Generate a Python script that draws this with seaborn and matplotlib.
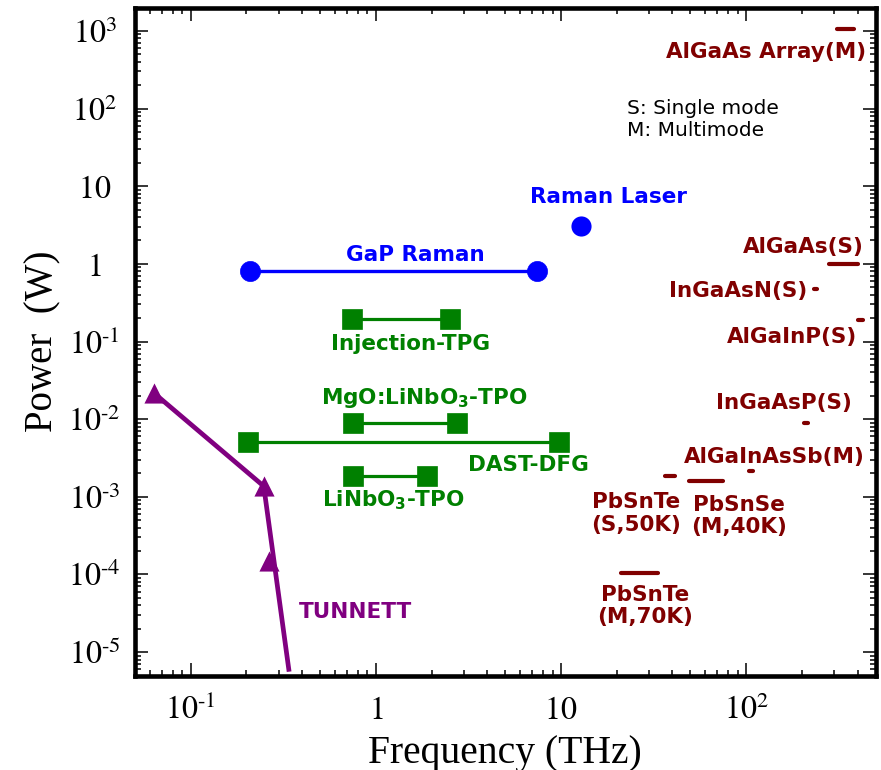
import matplotlib
matplotlib.use("Agg")
import matplotlib.pyplot as plt
import seaborn as sns
from matplotlib.ticker import FixedLocator, FixedFormatter, LogLocator, NullFormatter

# ---------------- data ----------------
gap_raman_x = [0.21, 7.45]
gap_raman_y = [0.82, 0.82]
raman_laser_x = [12.8]
raman_laser_y = [3.07]

injection_tpg_x = [0.74, 2.51]
injection_tpg_y = [0.197, 0.197]
mgo_tpo_x = [0.75, 2.75]
mgo_tpo_y = [0.009, 0.009]
dast_dfg_x = [0.203, 9.8]
dast_dfg_y = [0.00506, 0.00506]
linbo3_tpo_x = [0.75, 1.88]
linbo3_tpo_y = [0.00184, 0.00184]

tunnett_marker_x = [0.063, 0.248, 0.264]
tunnett_marker_y = [0.0219, 1.37e-3, 1.47e-4]
tunnett_line_x = [0.063, 0.248, 0.34]
tunnett_line_y = [0.0219, 1.37e-3, 5.6e-6]

laser_names = ["AlGaAs Array(M)", "AlGaAs(S)", "InGaAsN(S)", "AlGaInP(S)",
               "InGaAsP(S)", "AlGaInAsSb(M)", "PbSnTe(S,50K)",
               "PbSnSe(M,40K)", "PbSnTe(M,70K)"]
laser_f_lo = [310, 280, 232, 403, 205, 103.5, 36.4, 49.4, 21.2]
laser_f_hi = [383, 400, 243, 429, 215, 109, 41.2, 75, 33.5]
laser_power = [1050, 1.0, 0.479, 0.189, 0.009, 0.00212, 0.00184, 0.00162, 1.03e-4]

x_ticks = [0.1, 1, 10, 100]
x_tick_labels = [r"$10^{\text{-}1}$", r"$1$", r"$10$", r"$10^{2}$"]
y_ticks = [1e-5, 1e-4, 1e-3, 1e-2, 1e-1, 1, 10, 100, 1000]
y_tick_labels = [r"$10^{\text{-}5}$", r"$10^{\text{-}4}$", r"$10^{\text{-}3}$",
                 r"$10^{\text{-}2}$", r"$10^{\text{-}1}$", r"$1$", r"$10$",
                 r"$10^{2}$", r"$10^{3}$"]

# ---------------- style ----------------
sns.set_style("ticks")
plt.rcParams["font.family"] = ["DejaVu Sans"]
plt.rcParams["mathtext.fontset"] = "stix"
plt.rcParams["text.color"] = "black"
plt.rcParams["axes.labelcolor"] = "black"
plt.rcParams["xtick.color"] = "black"
plt.rcParams["ytick.color"] = "black"
plt.rcParams["xtick.labelcolor"] = "black"
plt.rcParams["ytick.labelcolor"] = "black"

BLUE = "#0000ff"
GREEN = "#008000"
PURPLE = "#800080"
DRED = "#800000"

fig = plt.figure(figsize=(8.81, 7.70), dpi=100)
ax = fig.add_axes([135 / 881, 1 - 675.5 / 770, (875.5 - 135) / 881, (675.5 - 7.5) / 770])
ax.set_xscale("log")
ax.set_yscale("log")
ax.set_xlim(0.05, 500)
ax.set_ylim(5e-6, 2000)


def seg(x, y, color, lw, marker=None, ms=0, cap="butt"):
    sns.lineplot(x=x, y=y, ax=ax, color=color, lw=lw, marker=marker,
                 markersize=ms, markeredgewidth=0.5, markeredgecolor=color,
                 sort=False, estimator=None, legend=False,
                 solid_capstyle=cap)


# blue
seg(gap_raman_x, gap_raman_y, BLUE, 2.4, "o", 14.5)
sns.scatterplot(x=raman_laser_x, y=raman_laser_y, ax=ax, color=BLUE, s=14.5 ** 2,
                linewidth=0, legend=False, zorder=3)
# green
for xs, ys in [(injection_tpg_x, injection_tpg_y), (mgo_tpo_x, mgo_tpo_y),
               (dast_dfg_x, dast_dfg_y), (linbo3_tpo_x, linbo3_tpo_y)]:
    seg(xs, ys, GREEN, 2.3, "s", 15)
# purple
seg(tunnett_line_x, tunnett_line_y, PURPLE, 3.4)
sns.scatterplot(x=tunnett_marker_x, y=tunnett_marker_y, ax=ax, color=PURPLE,
                marker="^", s=14.5 ** 2, linewidth=0, legend=False, zorder=3)
# dark red short lasers
for lo, hi, p in zip(laser_f_lo, laser_f_hi, laser_power):
    seg([lo, hi], [p, p], DRED, 3.0, cap="round")

# ---------------- texts ----------------
lab_kw = dict(fontsize=15.5, fontweight="bold", va="baseline",
              math_fontfamily="dejavusans", family="DejaVu Sans")

ax.text(1.625, 1.077, "GaP Raman", color=BLUE, ha="center", **lab_kw)
ax.text(17.95, 6.02, "Raman Laser", color=BLUE, ha="center", **lab_kw)
ax.text(1.546, 0.0768, "Injection-TPG", color=GREEN, ha="center", **lab_kw)
ax.text(1.817, 0.01547, r"MgO:LiNbO$_\mathbf{3}$-TPO", color=GREEN, ha="center", **lab_kw)
ax.text(6.71, 0.00212, "DAST-DFG", color=GREEN, ha="center", **lab_kw)
ax.text(1.236, 7.5e-4, r"LiNbO$_\mathbf{3}$-TPO", color=GREEN, ha="center", **lab_kw)
ax.text(0.78, 2.78e-5, "TUNNETT", color=PURPLE, ha="center", **lab_kw)

ax.text(128.3, 454, "AlGaAs Array(M)", color=DRED, ha="center", **lab_kw)
ax.text(204, 1.394, "AlGaAs(S)", color=DRED, ha="center", **lab_kw)
ax.text(90, 0.370, "InGaAsN(S)", color=DRED, ha="center", **lab_kw)
ax.text(178, 0.0965, "AlGaInP(S)", color=DRED, ha="center", **lab_kw)
ax.text(161, 0.01333, "InGaAsP(S)", color=DRED, ha="center", **lab_kw)
ax.text(142.6, 0.00269, "AlGaInAsSb(M)", color=DRED, ha="center", **lab_kw)
ax.text(25.4, 7.22e-4, "PbSnTe", color=DRED, ha="center", **lab_kw)
ax.text(25.4, 3.68e-4, "(S,50K)", color=DRED, ha="center", **lab_kw)
ax.text(91.6, 6.52e-4, "PbSnSe", color=DRED, ha="center", **lab_kw)
ax.text(91.6, 3.47e-4, "(M,40K)", color=DRED, ha="center", **lab_kw)
ax.text(28.5, 4.52e-5, "PbSnTe", color=DRED, ha="center", **lab_kw)
ax.text(28.5, 2.40e-5, "(M,70K)", color=DRED, ha="center", **lab_kw)

ax.text(22.7, 84.5, "S: Single mode", color="black", ha="left", va="baseline",
        fontsize=14.5, family="DejaVu Sans")
ax.text(22.7, 44.4, "M: Multimode", color="black", ha="left", va="baseline",
        fontsize=14.5, family="DejaVu Sans")

# ---------------- axes styling ----------------
ax.xaxis.set_major_locator(FixedLocator(x_ticks))
ax.xaxis.set_major_formatter(FixedFormatter(x_tick_labels))
ax.yaxis.set_major_locator(FixedLocator(y_ticks))
ax.yaxis.set_major_formatter(FixedFormatter(y_tick_labels))
ax.xaxis.set_minor_locator(LogLocator(base=10, subs=range(2, 10), numticks=20))
ax.yaxis.set_minor_locator(LogLocator(base=10, subs=range(2, 10), numticks=20))
ax.xaxis.set_minor_formatter(NullFormatter())
ax.yaxis.set_minor_formatter(NullFormatter())

ax.tick_params(which="both", direction="in", top=True, right=True, color="black")
ax.tick_params(which="major", length=9.5, width=1.1, labelsize=23)
ax.tick_params(which="minor", length=4.5, width=1.1)
ax.tick_params(axis="x", which="major", pad=14)
ax.tick_params(axis="y", which="major", pad=29)
plt.setp(ax.get_yticklabels(), ha="center")

for sp in ax.spines.values():
    sp.set_linewidth(3.3)
    sp.set_color("black")
    sp.set_visible(True)

ax.set_xlabel("Frequency (THz)", family="Liberation Serif", fontsize=28.5, labelpad=6)
ax.set_ylabel("Power  (W)", family="Liberation Serif", fontsize=28, labelpad=5)

fig.savefig("out.png", dpi=100)
